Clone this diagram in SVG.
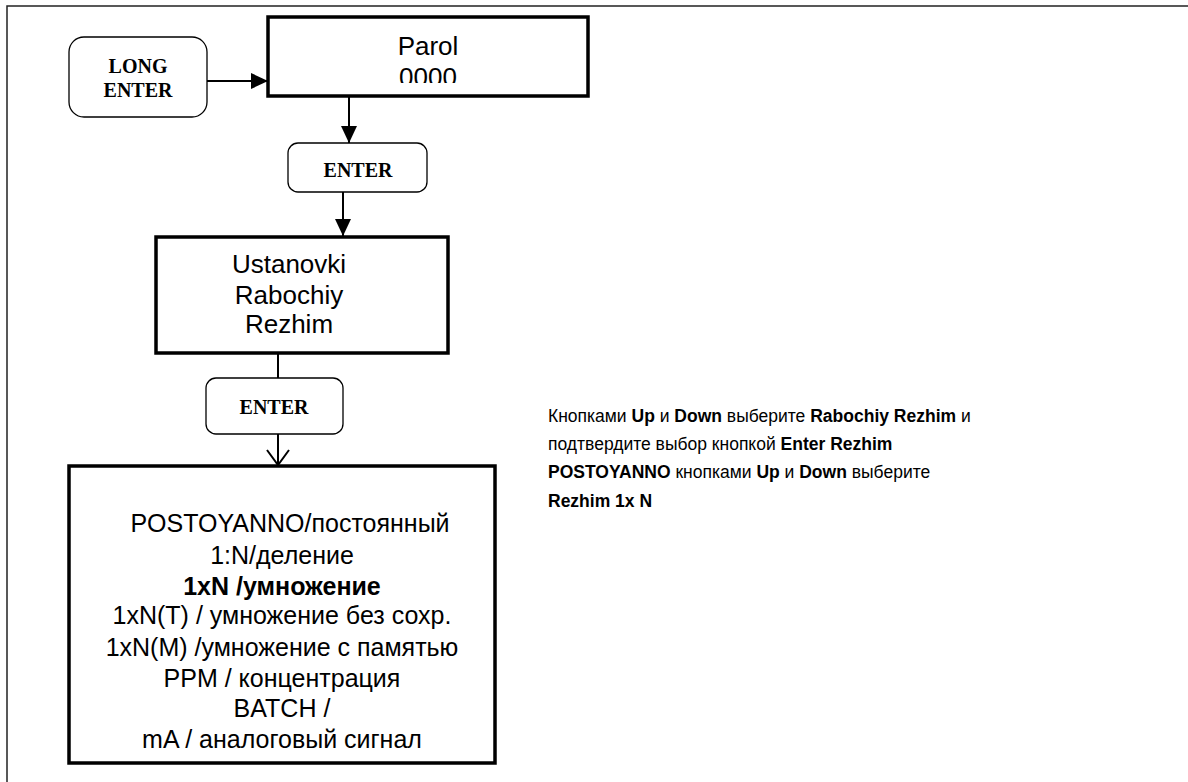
<svg xmlns="http://www.w3.org/2000/svg" width="1188" height="782" viewBox="0 0 1188 782">
<style>
.frame{fill:none;stroke:#222;stroke-width:1.5}
.thick{fill:#fff;stroke:#000;stroke-width:3.5}
.btn{fill:#fff;stroke:#000;stroke-width:1.3}
.con{fill:none;stroke:#000;stroke-width:2}
.bt{font-family:"Liberation Serif","Times New Roman",serif;font-weight:bold;font-size:20px;text-anchor:middle;fill:#000}
.bx{font-family:"Liberation Sans",Arial,sans-serif;font-size:26px;text-anchor:middle;fill:#000}
.md{font-family:"Liberation Sans",Arial,sans-serif;font-size:25px;text-anchor:middle;fill:#000}
.note{font-family:"Liberation Sans",Arial,sans-serif;font-size:17.5px;fill:#000}
.b{font-weight:bold}
</style>
<defs>
<marker id="ah" markerUnits="userSpaceOnUse" markerWidth="18" markerHeight="18" viewBox="0 0 18 18" refX="17" refY="9" orient="auto">
<path d="M0,1 L17,9 L0,17 Z" fill="#000"/>
</marker>
<marker id="av" markerUnits="userSpaceOnUse" markerWidth="20" markerHeight="26" viewBox="0 0 20 26" refX="16" refY="12" orient="auto">
<path d="M1,1 L16,12 L1,23" fill="none" stroke="#000" stroke-width="2"/>
</marker>
<clipPath id="pc"><rect x="270" y="19" width="316" height="64"/></clipPath>
</defs>
<rect class="frame" x="7" y="6" width="1220" height="820"/>
<g id="connectors">
<line class="con" x1="207" y1="81" x2="268" y2="81" marker-end="url(#ah)"/>
<line class="con" x1="349" y1="97" x2="349" y2="143" marker-end="url(#ah)"/>
<line class="con" x1="343" y1="192" x2="343" y2="236" marker-end="url(#ah)"/>
<line class="con" x1="278" y1="354" x2="278" y2="378"/>
<line class="con" x1="278" y1="434" x2="278" y2="465" marker-end="url(#av)"/>
</g>
<g id="long-enter">
<rect class="btn" x="69" y="37" width="138" height="80" rx="15"/>
<text class="bt" x="138" y="73">LONG</text>
<text class="bt" x="138" y="97">ENTER</text>
</g>
<g id="parol">
<rect class="thick" x="268" y="17" width="320" height="79"/>
<text class="bx" x="428" y="55">Parol</text>
<text class="bx" x="428" y="86" clip-path="url(#pc)">0000</text>
</g>
<g id="enter1">
<rect class="btn" x="288" y="143" width="139" height="49" rx="10"/>
<text class="bt" x="358" y="177">ENTER</text>
</g>
<g id="ustanovki">
<rect class="thick" x="156" y="237" width="292" height="116"/>
<text class="bx" x="289" y="273">Ustanovki</text>
<text class="bx" x="289" y="304">Rabochiy</text>
<text class="bx" x="289" y="333">Rezhim</text>
</g>
<g id="enter2">
<rect class="btn" x="206" y="378" width="137" height="56" rx="10"/>
<text class="bt" x="274" y="414">ENTER</text>
</g>
<g id="modes">
<rect class="thick" x="69" y="466" width="426" height="297"/>
<text class="md" x="290" y="532">POSTOYANNO/постоянный</text>
<text class="md" x="282" y="564">1:N/деление</text>
<text class="md b" x="282" y="595">1xN /умножение</text>
<text class="md" x="282" y="624">1xN(T) / умножение без сохр.</text>
<text class="md" x="282" y="656">1xN(M) /умножение с памятью</text>
<text class="md" x="282" y="687">PPM / концентрация</text>
<text class="md" x="282" y="717">BATCH /</text>
<text class="md" x="282" y="748">mA / аналоговый сигнал</text>
</g>
<g id="note">
<text class="note" x="548" y="422">Кнопками <tspan class="b">Up</tspan> и <tspan class="b">Down</tspan> выберите <tspan class="b">Rabochiy Rezhim</tspan> и</text>
<text class="note" x="548" y="450">подтвердите выбор кнопкой <tspan class="b">Enter Rezhim</tspan></text>
<text class="note" x="548" y="478"><tspan class="b">POSTOYANNO</tspan> кнопками <tspan class="b">Up</tspan> и <tspan class="b">Down</tspan> выберите</text>
<text class="note" x="548" y="507"><tspan class="b">Rezhim 1x N</tspan></text>
</g>
</svg>
